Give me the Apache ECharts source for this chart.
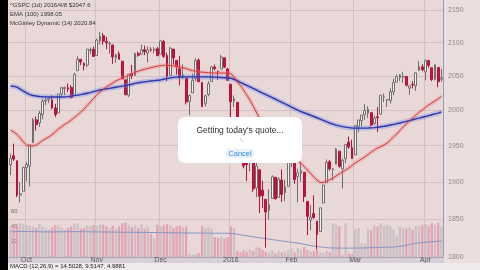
<!DOCTYPE html>
<html><head><meta charset="utf-8">
<script src="https://cdn.jsdelivr.net/npm/echarts@6/dist/echarts.min.js"></script>
<style>html,body{margin:0;padding:0;background:#e9d8d8;}#c{width:480px;height:270px;}</style>
</head><body><div id="c"></div>
<script>
const dates = [
'2015-09-24','2015-09-25','2015-09-28','2015-09-29','2015-09-30',
'2015-10-01','2015-10-02','2015-10-05','2015-10-06','2015-10-07','2015-10-08','2015-10-09','2015-10-12','2015-10-13','2015-10-14','2015-10-15','2015-10-16','2015-10-19','2015-10-20','2015-10-21','2015-10-22','2015-10-23','2015-10-26','2015-10-27','2015-10-28','2015-10-29','2015-10-30',
'2015-11-02','2015-11-03','2015-11-04','2015-11-05','2015-11-06','2015-11-09','2015-11-10','2015-11-11','2015-11-12','2015-11-13','2015-11-16','2015-11-17','2015-11-18','2015-11-19','2015-11-20','2015-11-23','2015-11-24','2015-11-25','2015-11-27','2015-11-30',
'2015-12-01','2015-12-02','2015-12-03','2015-12-04','2015-12-07','2015-12-08','2015-12-09','2015-12-10','2015-12-11','2015-12-14','2015-12-15','2015-12-16','2015-12-17','2015-12-18','2015-12-21','2015-12-22','2015-12-23','2015-12-24','2015-12-28','2015-12-29','2015-12-30','2015-12-31',
'2016-01-04','2016-01-05','2016-01-06','2016-01-07','2016-01-08','2016-01-11','2016-01-12','2016-01-13','2016-01-14','2016-01-15','2016-01-19','2016-01-20','2016-01-21','2016-01-22','2016-01-25','2016-01-26','2016-01-27','2016-01-28','2016-01-29',
'2016-02-01','2016-02-02','2016-02-03','2016-02-04','2016-02-05','2016-02-08','2016-02-09','2016-02-10','2016-02-11','2016-02-12','2016-02-16','2016-02-17','2016-02-18','2016-02-19','2016-02-22','2016-02-23','2016-02-24','2016-02-25','2016-02-26','2016-02-29',
'2016-03-01','2016-03-02','2016-03-03','2016-03-04','2016-03-07','2016-03-08','2016-03-09','2016-03-10','2016-03-11','2016-03-14','2016-03-15','2016-03-16','2016-03-17','2016-03-18','2016-03-21','2016-03-22','2016-03-23','2016-03-24','2016-03-28','2016-03-29','2016-03-30','2016-03-31',
'2016-04-01','2016-04-04','2016-04-05','2016-04-06','2016-04-07','2016-04-08'];

const openP = [
1923.6,1935.9,1929.2,1881.9,1887.1,
1919.7,1921.8,1954.3,1986.6,1982.3,1994.0,2013.7,2015.7,2015.0,2003.7,1996.5,2024.4,2031.7,2033.1,2033.5,2021.9,2058.2,2075.1,2068.8,2066.5,2088.4,2090.0,
2080.8,2102.6,2110.6,2101.7,2098.6,2096.6,2077.2,2083.4,2072.3,2044.6,2022.1,2053.7,2051.0,2083.7,2082.8,2089.4,2084.4,2089.3,2088.8,2090.9,
2082.9,2101.7,2080.7,2051.2,2090.4,2073.4,2061.2,2047.9,2047.3,2013.4,2025.6,2046.5,2073.8,2040.8,2010.3,2023.2,2042.2,2063.5,2057.8,2060.5,2077.3,2060.6,
2038.2,2013.8,2011.7,1985.3,1946.0,1926.1,1927.8,1940.3,1891.7,1916.7,1888.7,1876.2,1861.5,1877.4,1906.3,1878.8,1902.5,1885.2,1894.0,
1936.9,1935.3,1907.1,1911.7,1913.1,1873.3,1848.5,1857.1,1847.0,1833.4,1871.4,1898.8,1927.6,1916.7,1924.4,1942.4,1917.6,1931.9,1955.0,1947.1,
1937.1,1976.6,1985.6,1994.0,1996.1,1996.9,1981.4,1991.0,1994.7,2019.3,2015.3,2014.2,2026.9,2041.2,2047.9,2048.6,2049.6,2032.5,2037.9,2035.8,2058.3,2063.8,
2056.6,2073.2,2062.5,2045.6,2063.0,2045.5];

const highP = [
1938.9,1952.9,1929.2,1899.5,1920.5,
1927.2,1951.4,1989.2,1991.6,1999.3,2016.5,2020.1,2018.7,2022.3,2009.6,2024.2,2033.5,2034.5,2039.1,2037.0,2055.2,2079.7,2075.1,2070.4,2090.4,2092.5,2094.3,
2106.2,2116.5,2114.6,2108.8,2101.9,2096.6,2083.7,2086.9,2072.3,2044.6,2053.2,2066.7,2085.3,2086.7,2097.1,2095.6,2094.1,2093.0,2093.3,2093.8,
2103.4,2104.3,2085.0,2093.8,2090.4,2073.4,2080.3,2067.7,2047.3,2022.9,2053.9,2076.7,2076.4,2040.8,2022.9,2042.7,2064.7,2067.4,2057.8,2081.6,2077.3,2062.5,
2038.2,2021.9,2011.7,1985.3,1960.4,1935.7,1947.4,1950.3,1934.5,1916.7,1901.4,1876.2,1889.9,1908.9,1906.3,1906.3,1917.0,1903.0,1940.2,
1947.2,1935.3,1918.0,1927.4,1913.1,1873.3,1868.3,1881.6,1847.0,1864.8,1895.8,1930.7,1930.0,1918.8,1946.7,1942.4,1932.1,1951.8,1963.0,1958.3,
1978.4,1986.5,1993.7,2009.1,2006.1,1996.9,1992.7,2005.1,2022.4,2024.6,2015.9,2032.0,2046.2,2052.4,2053.1,2056.6,2049.6,2036.0,2042.7,2055.9,2072.2,2067.9,
2075.1,2074.0,2062.5,2067.3,2063.0,2060.6];

const lowP = [
1908.9,1929.0,1879.2,1871.9,1887.1,
1900.7,1893.7,1954.3,1971.2,1976.4,1987.5,2007.6,2010.6,2001.8,1990.7,1996.5,2020.5,2022.3,2026.6,2017.2,2021.9,2058.2,2066.5,2058.8,2063.1,2082.6,2079.3,
2080.8,2097.5,2096.9,2090.4,2083.7,2068.2,2069.9,2074.9,2045.7,2022.0,2019.4,2045.9,2051.0,2078.8,2082.8,2081.4,2070.3,2086.3,2084.1,2080.4,
2082.9,2077.1,2042.4,2051.2,2066.8,2052.3,2036.5,2045.7,2008.8,1993.3,2025.6,2042.4,2041.7,2005.3,2005.9,2020.5,2042.2,2058.7,2044.2,2060.5,2062.0,2043.6,
1989.7,2005.0,1979.1,1938.8,1918.5,1901.1,1914.4,1886.3,1878.9,1857.8,1864.6,1812.3,1849.0,1877.4,1876.0,1878.8,1872.7,1873.7,1894.0,
1920.3,1897.3,1872.2,1900.5,1872.7,1828.5,1834.9,1850.3,1810.1,1833.4,1871.4,1898.8,1915.1,1902.2,1924.4,1919.4,1891.0,1925.4,1945.8,1931.8,
1937.1,1968.8,1977.4,1986.8,1989.4,1977.4,1979.8,1969.3,1994.7,2012.1,2005.2,2010.0,2022.2,2041.2,2043.1,2040.6,2034.9,2022.5,2032.0,2028.3,2058.3,2057.5,
2044.0,2062.6,2042.6,2043.8,2033.8,2041.7];

const closeP = [
1932.2,1931.3,1881.8,1884.1,1920.0,
1923.8,1951.4,1987.1,1979.9,1995.8,2013.4,2014.9,2017.5,2003.7,1994.2,2023.9,2033.1,2033.7,2030.8,2018.9,2052.5,2075.2,2071.2,2065.9,2090.4,2089.4,2079.4,
2104.1,2109.8,2102.3,2099.9,2099.2,2078.6,2081.7,2075.0,2046.0,2023.0,2053.2,2050.4,2083.6,2081.2,2089.2,2086.6,2089.1,2088.9,2090.1,2080.4,
2102.6,2079.5,2049.6,2091.7,2077.1,2063.6,2047.6,2052.2,2012.4,2021.9,2043.4,2073.1,2041.9,2005.6,2021.2,2039.0,2064.3,2061.0,2056.5,2078.4,2063.4,2043.9,
2012.7,2016.7,1990.3,1943.1,1922.0,1923.7,1938.7,1890.3,1921.8,1880.3,1881.3,1859.3,1869.0,1906.9,1877.1,1903.6,1883.0,1893.4,1940.2,
1939.4,1903.0,1912.5,1915.5,1880.1,1853.4,1852.2,1851.9,1829.1,1864.8,1895.6,1926.8,1917.8,1917.8,1945.5,1921.3,1929.8,1951.7,1948.1,1932.2,
1978.4,1986.5,1993.4,2000.0,2001.8,1979.3,1989.3,1989.6,2022.2,2019.6,2015.9,2027.2,2040.6,2049.6,2051.6,2049.8,2036.7,2035.9,2037.1,2055.0,2064.0,2059.7,
2072.8,2066.1,2045.2,2066.7,2041.9,2047.6];

const volume = [
40,42,40,44,43,
42,41,40,38,43,40,37,36,39,42,41,38,36,38,40,44,43,37,38,41,40,42,
41,43,42,40,38,41,37,40,44,45,42,39,41,38,43,37,40,30,25,42,
40,42,43,41,38,40,41,39,40,4,3,4,5,40,38,39,37,26,25,27,24,26,
40,38,8,6,9,7,10,8,13,12,9,7,6,9,5,8,6,7,9,
11,6,12,10,13,9,7,8,10,6,5,8,6,44,42,40,3,44,5,4,
36,38,18,17,37,35,42,40,44,41,42,40,36,28,40,38,37,39,36,41,40,42,
43,41,44,42,45,40];

const ema100 = [
2035.6,2035,2034,2031,2028,2025.5,2023,2021.8,2021,2020.3,2020,
2019.8,2019.6,2019.5,2019.5,2019.5,2019.6,2019.8,2020.1,
2020.8,2021.5,2022.2,2023,2024,2025,2026,2027.3,2028.5,2029.7,2030.6,2031.4,
2032.2,2033,2033.8,2034.6,2035.4,2036.2,2037.2,2038.2,2039.5,2040.3,
2041,2041.7,2042.4,2043,2043.5,2044,2044.5,2045.5,2046.5,2047.5,2048.3,
2048.6,2048.8,2049,2049,2049,2049,2049,2049,2049,2049,2049,2048.8,
2048.6,2048.3,2048,2047.8,2047.5,2047,
2045.5,2043.3,2041,2038.8,2036.5,2034.3,2032,2029.8,2027.5,2025.2,2023,2020.8,2018.5,2016.3,2014,2011.8,2009.5,2007.3,2005,2002.8,2000.5,1998.3,
1996.8,1995,1993.2,1991.4,1989.6,1987.8,1986,1984,1982.1,1980.6,1979.2,1978,1977,1976.2,1975.5,1975.1,
1974.9,1974.8,1974.8,1974.9,1975,1975.2,
1975.6,1976.1,1976.8,1977.5,1978.3,1979.2,1980.1,1981.2,1982.2,1983.3,1984.5,1985.6,1986.8,1988,1989.1,1990.4,1991.5,1992.7,1993.9,1995.1,1996.2,1998.05];

const mcginley = [
1972,1969.5,1966,1961,1955,1951,1949.6,1949.6,1951,1953.7,
1957.3,1960,1962.3,1965.8,1969.5,1973.5,1977,1980.3,1983,1986.4,
1990,1993.6,1997.9,2002,2007,2012.3,2017.4,2022.5,2026.8,2030.5,
2034.1,2037.1,2040,2043,2045.2,2047.1,2048.9,2051.1,2053.3,2055.6,
2057.3,2059,2060.3,2061.5,2062.7,2063.7,2064.8,2065.6,2066.3,2066.2,
2065.8,2065.2,2064.5,2063.6,2062.5,2061.1,2059.6,2058.3,2057.3,2056.5,
2056,2055.6,2055.2,2054.9,2054.7,2054.7,2054.7,2054.7,2054.7,2054,
2048.9,2042.3,2036.4,2029.8,2022.5,2015.2,2006.6,1997.9,1988.5,1980.6,
1973.5,1967.2,1961.6,1956.7,1951.8,1947.5,1943.3,1939.4,1935.7,1932.2,
1928.7,1925.3,1921.1,1916.3,1911.5,1906.7,1902.5,1899.1,1899.1,1901.1,
1902.8,1904.9,1908,1910.8,1913.5,1916.3,1919,1922.5,1926,1928.7,
1931.5,1934.3,1937.7,1941.2,1944,1946.8,1948.9,1951,1953.8,1958,
1962.3,1966.5,1971.5,1976.5,1980.7,1985.7,1989.2,1993.6,1997.2,2000.8,
2004.4,2008,2010.9,2013.8,2016.7,2020.84];

const volMA = [
33,33,33.2,33.3,33.4,33.3,33.2,33.1,33,33,
32.9,32.9,32.8,32.8,32.8,32.9,33,33,33.1,33.1,
33.2,33.2,33.1,33,33,32.9,32.9,32.8,32.8,32.7,
32.7,32.6,32.6,32.5,32.5,32.5,32.4,32.4,32.3,32.3,
32.2,32.2,32.1,32.1,32,32,31.9,31.9,31.8,31.8,
31.7,31.7,31.6,31.6,31.5,31.5,31.4,31.4,31.4,31.3,
31.3,31.3,31.2,31.2,31.1,31.1,31,31,30.9,30.8,
30.5,29.8,29.1,28.4,27.8,27.1,26.4,25.8,25.2,24.6,
24,23.4,22.8,22.2,21.6,21,20.4,19.8,19.2,18.7,
18.2,17.4,16.6,15.8,15,14.3,13.8,13.3,12.8,12.3,
11.8,11.7,11.7,11.6,11.6,11.6,11.6,11.7,11.7,11.8,
11.8,11.9,12,12.1,12.3,12.4,12.6,12.7,12.8,12.9,
13.1,13.4,13.9,14.6,15.4,16.3,17.2,17.9,18.4,18.8,
19.2,19.6,20,20.3,20.6,20.9];

const priceTicks = [1800,1850,1900,1950,2000,2050,2100,2150];
const volTicks = [20,40,60];
const monthNames = ['Jan','Feb','Mar','Apr','May','Jun','Jul','Aug','Sep','Oct','Nov','Dec'];
const headerLines = ['^GSPC (1d) 2016/4/8 $2047.6','EMA (100) 1998.05','McGinley Dynamic (14) 2020.84'];
const macdText = 'MACD (12,26,9) = 14.5028, 9.5147, 4.9881';

const FF = 'Liberation Sans, Arial, sans-serif';
const isMonthStart = (idx) => idx > 0 && dates[idx].slice(5,7) !== dates[idx-1].slice(5,7);
const fmtMonth = (v) => { const m = +v.slice(5,7); return m === 1 ? v.slice(0,4) : monthNames[m-1]; };

const candles = dates.map((d,i) => [openP[i], closeP[i], lowP[i], highP[i]]);
const volBars = volume.map((v,i) => ({ value: v, itemStyle: { color: closeP[i] >= openP[i] ? 'rgba(196,188,194,0.85)' : 'rgba(226,150,172,0.8)' } }));

const option = {
  animation: false,
  backgroundColor: '#e9d8d8',
  textStyle: { fontFamily: FF },
  grid: [
    { left: 9, right: 37, top: 0, height: 257 },
    { left: 9, right: 37, top: 205, height: 52 }
  ],
  xAxis: [
    { type: 'category', data: dates, gridIndex: 0, boundaryGap: true,
      axisLine: { show: true, lineStyle: { color: '#aaa0b0' } },
      axisTick: { show: false },
      axisLabel: { interval: isMonthStart, formatter: fmtMonth, fontSize: 7, color: '#555', margin: 0, fontFamily: FF },
      splitLine: { show: true, interval: isMonthStart, lineStyle: { color: '#d4c0c4', width: 1 } } },
    { type: 'category', data: dates, gridIndex: 1, boundaryGap: true, show: false }
  ],
  yAxis: [
    { type: 'log', logBase: 10, gridIndex: 0, position: 'right', min: 1800, max: 2165.5,
      axisLine: { show: true, lineStyle: { color: '#8e9dc8' } },
      axisTick: { show: false, customValues: priceTicks },
      axisLabel: { customValues: priceTicks, fontSize: 7, color: '#8a8a8a', margin: 5, fontFamily: FF,
                   formatter: (v) => String(Math.round(v)) },
      splitLine: { show: true, lineStyle: { color: '#d4c0c4', width: 1 } } },
    { type: 'value', gridIndex: 1, position: 'left', min: 0, max: 68, interval: 20,
      axisLine: { show: false }, axisTick: { show: false }, splitLine: { show: false },
      axisLabel: { inside: true, fontSize: 6, color: '#666', margin: 2, showMaxLabel: false, fontFamily: FF,
                   formatter: (v) => volTicks.indexOf(v) >= 0 ? String(v) : '' } }
  ],
  series: [
    { type: 'bar', name: 'Volume', xAxisIndex: 1, yAxisIndex: 1, data: volBars, barWidth: '72%', z: 1, silent: true },
    { type: 'line', name: 'VolMA', xAxisIndex: 1, yAxisIndex: 1, data: volMA, symbol: 'none', z: 2, silent: true,
      lineStyle: { color: '#8494c4', width: 1 } },
    { type: 'candlestick', name: '^GSPC', xAxisIndex: 0, yAxisIndex: 0, data: candles, barWidth: '72%', z: 3, silent: true,
      itemStyle: { color: '#f7f2f2', color0: '#c8173f', borderColor: '#6e6e6e', borderColor0: '#b3123a', borderWidth: 1 } },
    { type: 'line', name: 'EMA halo', data: ema100, symbol: 'none', z: 4, silent: true,
      lineStyle: { color: 'rgba(110,135,235,0.35)', width: 5 } },
    { type: 'line', name: 'EMA (100)', data: ema100, symbol: 'none', z: 5, silent: true,
      lineStyle: { color: '#2d34a8', width: 1.4 } },
    { type: 'line', name: 'McG halo', data: mcginley, symbol: 'none', z: 4, silent: true,
      lineStyle: { color: 'rgba(240,130,130,0.35)', width: 4 } },
    { type: 'line', name: 'McGinley Dynamic (14)', data: mcginley, symbol: 'none', z: 5, silent: true,
      lineStyle: { color: '#cf3b3b', width: 1 } }
  ],
  graphic: [
    { type: 'rect', shape: { x: 444, y: 0, width: 36, height: 270 }, style: { fill: '#ecdede' }, z: -5, silent: true },
    { type: 'rect', shape: { x: 8, y: 257, width: 436, height: 6 }, style: { fill: '#d8cfd8' }, z: -4, silent: true },
    { type: 'rect', shape: { x: 0, y: 263, width: 480, height: 7 }, style: { fill: '#f0eaea' }, z: 20, silent: true },
    { type: 'text', style: { text: macdText, x: 10, y: 266.8, fontSize: 6, fill: '#222', verticalAlign: 'middle', fontFamily: FF }, z: 21, silent: true },
    { type: 'rect', shape: { x: 0, y: 0, width: 8, height: 270 }, style: { fill: '#000' }, z: 30, silent: true },
    { type: 'text', style: { text: headerLines[0], x: 10, y: 5, fontSize: 6, fill: '#333', verticalAlign: 'middle', fontFamily: FF }, z: 30, silent: true },
    { type: 'text', style: { text: headerLines[1], x: 10, y: 14, fontSize: 6, fill: '#333', verticalAlign: 'middle', fontFamily: FF }, z: 30, silent: true },
    { type: 'text', style: { text: headerLines[2], x: 10, y: 23, fontSize: 6, fill: '#333', verticalAlign: 'middle', fontFamily: FF }, z: 30, silent: true },
    { type: 'rect', shape: { x: 178, y: 117, width: 124, height: 46, r: 7 }, style: { fill: '#ffffff' }, z: 40, silent: true },
    { type: 'text', style: { text: "Getting today's quote...", x: 240, y: 130.5, fontSize: 8.5, fill: '#2e2e2e', align: 'center', verticalAlign: 'middle', fontFamily: FF }, z: 41, silent: true },
    { type: 'line', shape: { x1: 240, y1: 138, x2: 243, y2: 142 }, style: { stroke: '#c4c4c4', lineWidth: 1 }, z: 41, silent: true },
    { type: 'rect', shape: { x: 226, y: 149, width: 28, height: 9, r: 3 }, style: { fill: 'rgba(120,180,240,0.18)' }, z: 41, silent: true },
    { type: 'text', style: { text: 'Cancel', x: 240, y: 153.5, fontSize: 7.5, fill: '#3b8be0', align: 'center', verticalAlign: 'middle', fontFamily: FF }, z: 42, silent: true }
  ]
};

const chart = echarts.init(document.getElementById('c'), null, { renderer: 'canvas' });
chart.setOption(option);
</script></body></html>
